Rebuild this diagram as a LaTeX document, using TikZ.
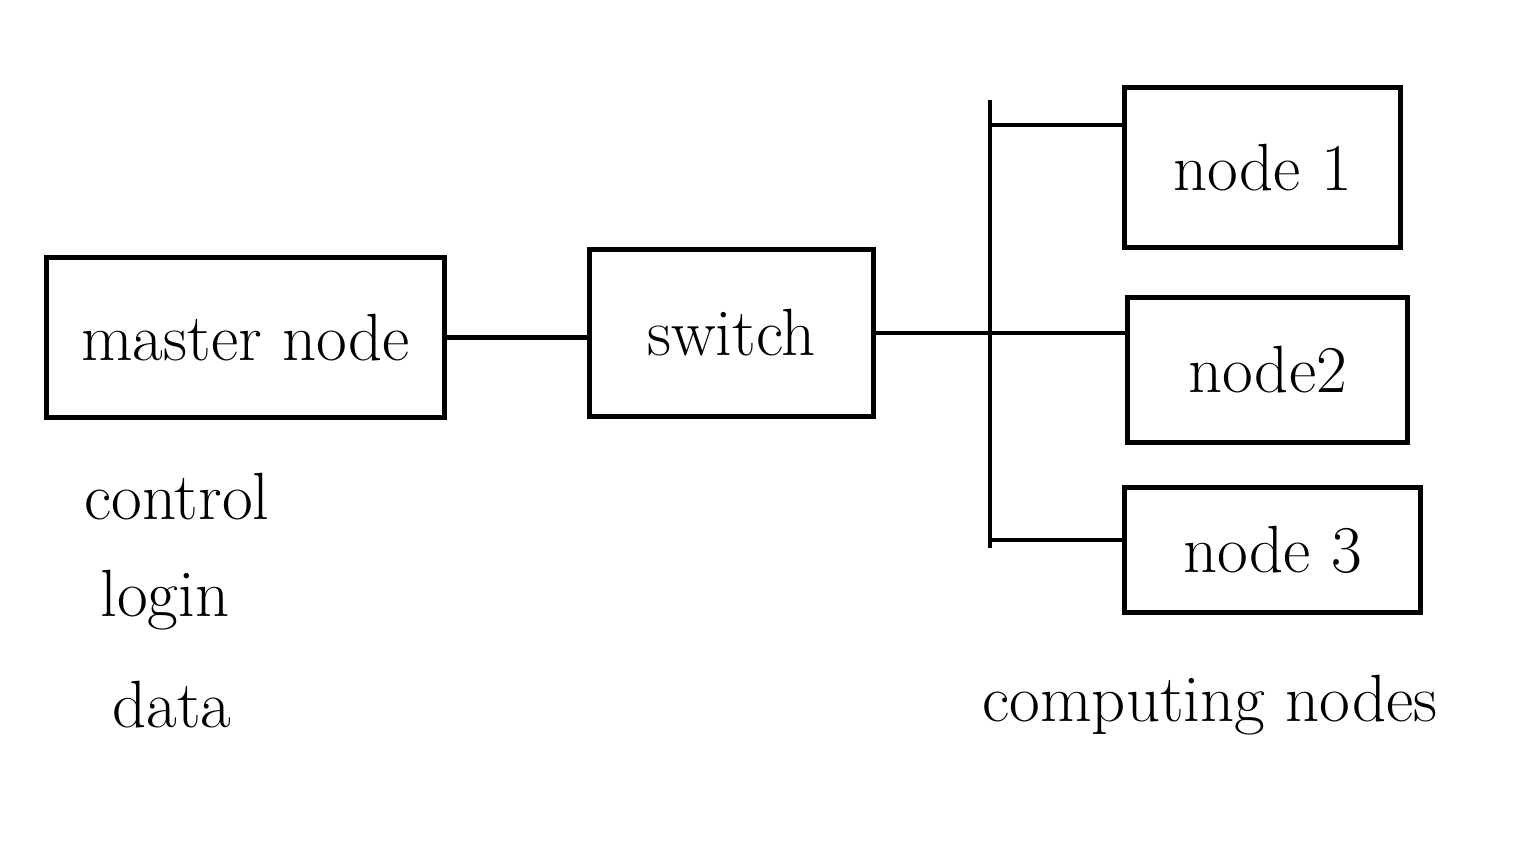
\documentclass[tikz,border=0pt]{standalone}
\begin{document}
\begin{tikzpicture}[x=0.01cm,y=-0.01cm,
  box/.style={draw,line width=1.4pt,inner sep=0pt},
  lbl/.style={font=\fontsize{19}{22}\selectfont},
  wire/.style={line width=1.4pt}]
\useasboundingbox (0,0) rectangle (1539,857);
\node[box,anchor=north west,minimum width=3.98cm,minimum height=1.6cm] (master) at (44,255) {};
\node[lbl] at (master.center) {master node};
\node[box,anchor=north west,minimum width=2.84cm,minimum height=1.67cm] (switch) at (587,247) {};
\node[lbl] at (switch.center) {switch};
\node[box,anchor=north west,minimum width=2.76cm,minimum height=1.6cm] (n1) at (1122,85) {};
\node[lbl] at (n1.center) {node 1};
\node[box,anchor=north west,minimum width=2.8cm,minimum height=1.45cm] (n2) at (1125,295) {};
\node[lbl] at (n2.center) {node2};
\node[box,anchor=north west,minimum width=2.96cm,minimum height=1.25cm] (n3) at (1122,485) {};
\node[lbl] at (n3.center) {node 3};
\coordinate (bt) at (990,100);
\coordinate (bb) at (990,548);
\coordinate (s1) at (990,125);
\coordinate (s3) at (990,540);
\draw[wire] (bt) -- (bb);
\draw[wire] (master.east) -- (master.east -| switch.west);
\draw[wire] (switch.east) -- (switch.east -| n2.west);
\draw[wire] (s1) -- (s1 -| n1.west);
\draw[wire] (s3) -- (s3 -| n3.west);
\node[lbl,anchor=west] (c1) at (72,497) {control};
\node[lbl,anchor=west] (c2) at (88,600) {login};
\node[lbl,anchor=west] (c3) at (100,705) {data};
\node[lbl] (cn) at (1210,705) {computing nodes};
\end{tikzpicture}
\end{document}
